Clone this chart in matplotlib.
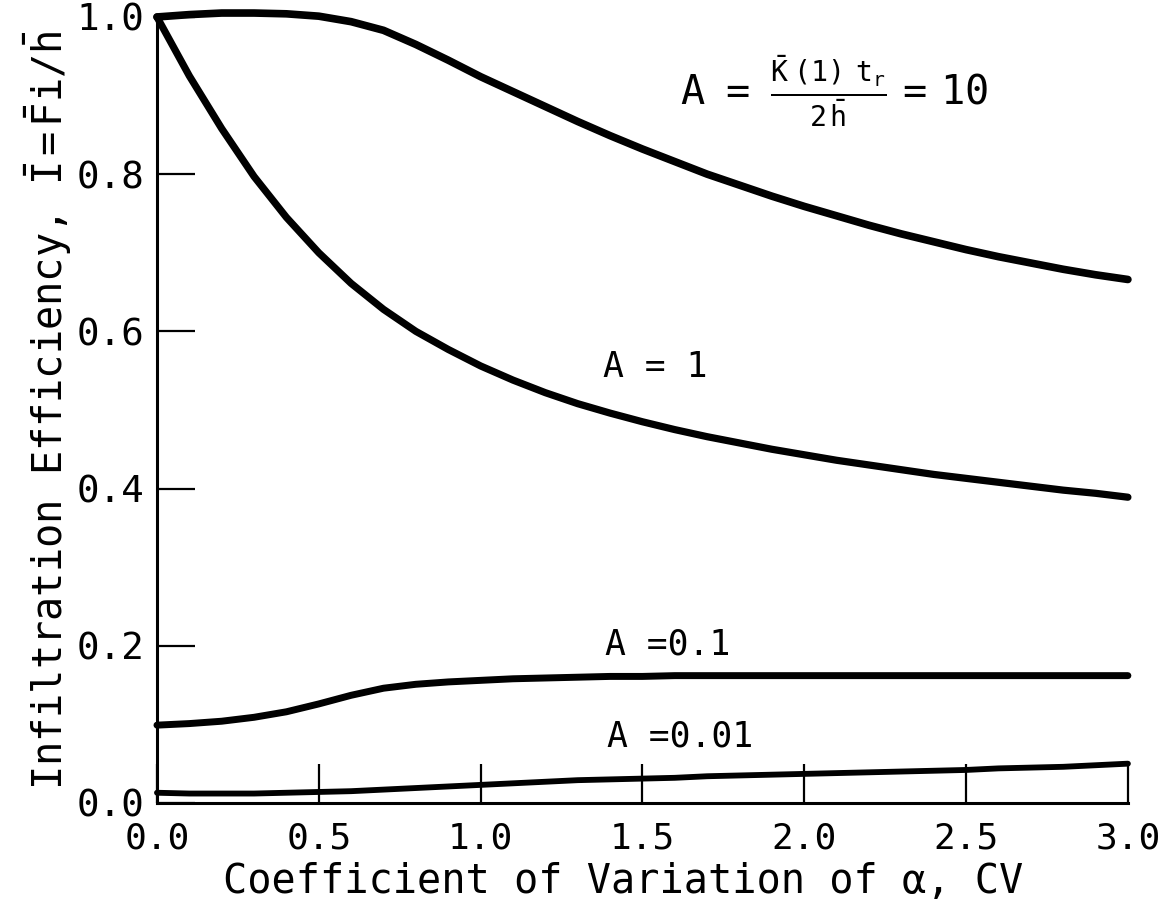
import numpy as np
import matplotlib.pyplot as plt

# SETTINGS
plt.rcParams['font.family'] = ['DejaVu Sans Mono', 'DejaVu Sans']
plt.rcParams['mathtext.fontset'] = 'custom'
plt.rcParams['mathtext.rm'] = 'DejaVu Sans Mono'
plt.rcParams['mathtext.it'] = 'DejaVu Sans Mono'
plt.rcParams['mathtext.bf'] = 'DejaVu Sans Mono:bold'

# DATA
# coefficient of variation of alpha
cv = [0.0, 0.1, 0.2, 0.3, 0.4, 0.5, 0.6, 0.7, 0.8, 0.9,
      1.0, 1.1, 1.2, 1.3, 1.4, 1.5, 1.6, 1.7, 1.8, 1.9,
      2.0, 2.1, 2.2, 2.3, 2.4, 2.5, 2.6, 2.7, 2.8, 2.9, 3.0]

# infiltration efficiency for each value of A
eff_a10 = [1.000, 1.003, 1.005, 1.005, 1.004, 1.001, 0.994, 0.983, 0.965, 0.945,
           0.924, 0.905, 0.886, 0.867, 0.849, 0.832, 0.816, 0.800, 0.786, 0.772,
           0.759, 0.747, 0.735, 0.724, 0.714, 0.704, 0.695, 0.687, 0.679, 0.672, 0.666]
eff_a1 = [1.000, 0.925, 0.858, 0.797, 0.745, 0.700, 0.661, 0.628, 0.600, 0.577,
          0.556, 0.538, 0.522, 0.508, 0.496, 0.485, 0.475, 0.466, 0.458, 0.450,
          0.443, 0.436, 0.430, 0.424, 0.418, 0.413, 0.408, 0.403, 0.398, 0.394, 0.389]
eff_a01 = [0.099, 0.101, 0.104, 0.109, 0.116, 0.126, 0.137, 0.146, 0.151, 0.154,
           0.156, 0.158, 0.159, 0.160, 0.161, 0.161, 0.162, 0.162, 0.162, 0.162,
           0.162, 0.162, 0.162, 0.162, 0.162, 0.162, 0.162, 0.162, 0.162, 0.162, 0.162]
eff_a001 = [0.013, 0.012, 0.012, 0.012, 0.013, 0.014, 0.015, 0.017, 0.019, 0.021,
            0.023, 0.025, 0.027, 0.029, 0.030, 0.031, 0.032, 0.034, 0.035, 0.036,
            0.037, 0.038, 0.039, 0.040, 0.041, 0.042, 0.044, 0.045, 0.046, 0.048, 0.050]

x_ticks = [0.0, 0.5, 1.0, 1.5, 2.0, 2.5, 3.0]
y_ticks = [0.0, 0.2, 0.4, 0.6, 0.8, 1.0]

# PLOT
fig = plt.figure(figsize=(11.67, 9.07), dpi=100)
ax = fig.add_axes([0.1345, 0.1147, 0.832, 0.8666])

line_kw = dict(color='black', solid_capstyle='round', clip_on=False)
ax.plot(cv, eff_a10, lw=5.5, **line_kw)
ax.plot(cv, eff_a1, lw=5.2, **line_kw)
ax.plot(cv, eff_a01, lw=5.0, **line_kw)
ax.plot(cv, eff_a001, lw=4.2, **line_kw)

# curve labels
ax.text(1.378, 0.555, 'A = 1', fontsize=25, va='center')
ax.text(1.384, 0.201, 'A =0.1', fontsize=25, va='center')
ax.text(1.390, 0.084, 'A =0.01', fontsize=25, va='center')
ax.text(1.615, 0.905,
        r'$A\ \ =\ \ \frac{\bar{K}\ (1)\ \ t_r}{2\,\bar{h}}\ =\ 10$',
        fontsize=29, ha='left', va='center')

# axes
ax.set_xlim(0, 3.0)
ax.set_ylim(0, 1.0)
ax.spines['top'].set_visible(False)
ax.spines['right'].set_visible(False)
ax.spines['left'].set_linewidth(2.2)
ax.spines['bottom'].set_linewidth(2.2)

ax.set_xticks(x_ticks)
ax.set_xticklabels([f'{v:.1f}' for v in x_ticks])
ax.set_yticks(y_ticks)
ax.set_yticklabels([f'{v:.1f}' for v in y_ticks])
ax.tick_params(axis='x', direction='in', length=28, width=1.6, pad=13, labelsize=26)
ax.tick_params(axis='y', direction='in', length=27, width=1.6, pad=9, labelsize=27)

ax.set_xlabel('Coefficient of Variation of α, CV', fontsize=29)
ax.xaxis.set_label_coords(0.48, -0.075)
ax.set_ylabel(r'Infiltration Efficiency, $\bar{I}=\bar{F}i/\bar{h}$', fontsize=29)
ax.yaxis.set_label_coords(-0.085, 0.5)

fig.savefig('out.png', dpi=100)
